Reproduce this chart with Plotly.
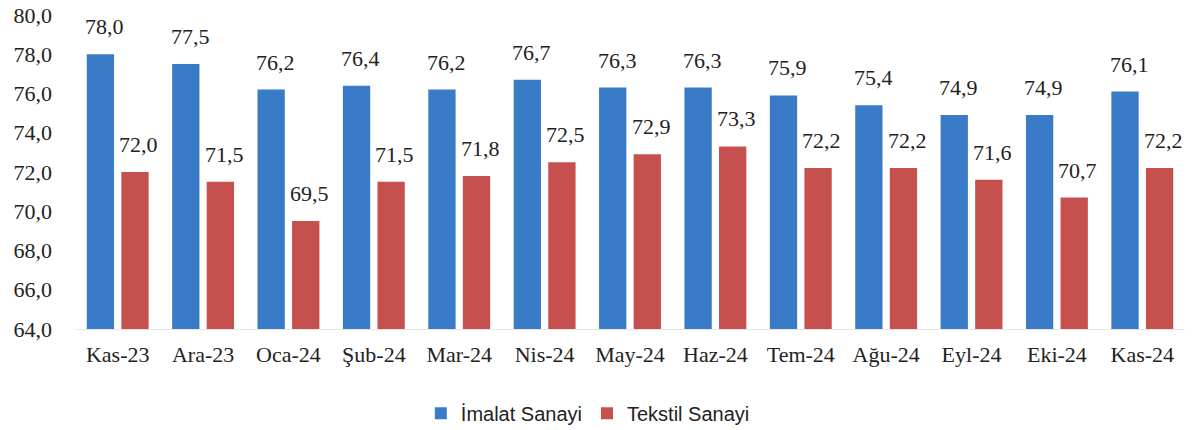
import plotly.graph_objects as go

categories = ["Kas-23", "Ara-23", "Oca-24", "Şub-24", "Mar-24", "Nis-24", "May-24",
              "Haz-24", "Tem-24", "Ağu-24", "Eyl-24", "Eki-24", "Kas-24"]
imalat = [78.0, 77.5, 76.2, 76.4, 76.2, 76.7, 76.3, 76.3, 75.9, 75.4, 74.9, 74.9, 76.1]
tekstil = [72.0, 71.5, 69.5, 71.5, 71.8, 72.5, 72.9, 73.3, 72.2, 72.2, 71.6, 70.7, 72.2]
y_ticks = [64, 66, 68, 70, 72, 74, 76, 78, 80]

serif = "Liberation Serif, Times New Roman, serif"
FS = 22
BLUE = "#3A7BC8"
RED = "#C5504E"

fig = go.Figure()
fig.add_trace(go.Bar(x=categories, y=imalat, name="İmalat Sanayi",
                     marker=dict(color=BLUE, line=dict(width=0))))
fig.add_trace(go.Bar(x=categories, y=tekstil, name="Tekstil Sanayi",
                     marker=dict(color=RED, line=dict(width=0))))

# value labels above bars (placed via axis coordinates, offset to each bar in group)
annotations = []
for series, shift in ((imalat, -17), (tekstil, 17)):
    for c, v in zip(categories, series):
        annotations.append(dict(x=c, y=v, xref="x", yref="y",
                                text=f"{v:.1f}".replace(".", ","),
                                showarrow=False, xanchor="center", yanchor="bottom",
                                xshift=shift + 4, yshift=13,
                                font=dict(family=serif, size=FS, color="#222")))

fig.update_layout(
    width=1197, height=430,
    margin=dict(l=75, r=12, t=15, b=101, autoexpand=False),
    paper_bgcolor="white", plot_bgcolor="white",
    separators=",.",
    barmode="group", bargap=0.19, bargroupgap=0.21,
    font=dict(family=serif, size=FS, color="#222"),
    annotations=annotations,
    xaxis=dict(showgrid=False, showline=True, linecolor="#e6e6e6", linewidth=1,
               ticks="", ticklabelstandoff=6, automargin=False,
               tickfont=dict(family=serif, size=FS, color="#222")),
    yaxis=dict(range=[64, 80], tickvals=y_ticks, tickformat=".1f",
               showgrid=False, zeroline=False, showline=False, ticks="",
               ticklabelstandoff=22, automargin=False, ticklabeloverflow="allow",
               tickfont=dict(family=serif, size=FS, color="#222")),
    legend=dict(orientation="h", x=0.462, xanchor="center", y=-0.268, yanchor="middle",
                font=dict(family="Liberation Sans, Arial, sans-serif",
                          size=20, color="#222"),
                itemwidth=30, traceorder="normal"),
)

# remove the default 8px page margin so the figure fills the window exactly
fig.write_html("out.html", config={"displayModeBar": False},
               post_script="document.body.style.margin='0';")
